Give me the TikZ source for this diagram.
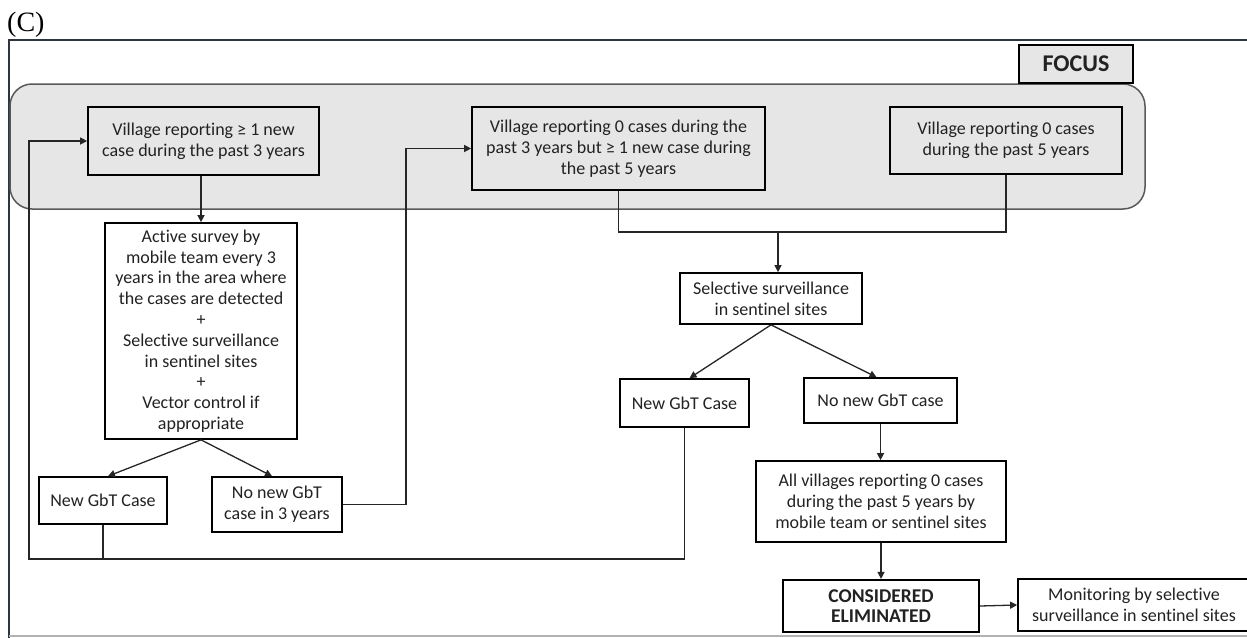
\documentclass[tikz,border=0pt]{standalone}
\usepackage{fontspec}
\setmainfont[Ligatures=NoCommon, RawFeature={-liga;-dlig}]{Carlito}
\newfontfamily\serifC{Liberation Serif}
\usetikzlibrary{arrows.meta}
\definecolor{panelgray}{HTML}{E6E6E6}
\definecolor{framenavy}{HTML}{2E3440}
\definecolor{txt}{HTML}{222222}
\tikzset{
  stepbox/.style={draw=black, line width=1.7pt, align=center, inner sep=0pt, text=txt,
    font=\fontsize{18}{20.8}\selectfont},
  conn/.style={draw=black!85, line width=1.3pt},
  arr/.style={conn, -{Triangle[length=7pt,width=7pt]}},
}
\begin{document}
\begin{tikzpicture}[x=1pt,y=-1pt]
\useasboundingbox (0,0) rectangle (1247,637);
\clip (0,0) rectangle (1247,637);
% title
\node[anchor=base west, inner sep=0pt, font=\serifC\fontsize{28}{30}\selectfont] (title) at (7,31) {(C)};
% outer frame
\draw[framenavy, line width=2pt] (1260,40) -- (9,40) -- (9,640);
\draw[black!30, line width=1.5pt] (9,636) -- (1260,636);
% focus panel
\draw[draw=black!65, line width=1.5pt, fill=panelgray, rounded corners=22pt] (10,84) rectangle (1145,209);
\node[stepbox, fill=panelgray, minimum width=114pt, minimum height=38pt, font=\bfseries\fontsize{24}{26}\selectfont] (focus) at (1076,64) {FOCUS};
% top row
\node[stepbox, fill=panelgray, minimum width=231pt, minimum height=68pt] (box1) at (203.5,141) {Village reporting ≥ 1 new\\case during the past 3 years};
\node[stepbox, fill=panelgray, minimum width=293pt, minimum height=83pt] (box2) at (618.5,148.5) {Village reporting 0 cases during the\\past 3 years but ≥ 1 new case during\\the past 5 years};
\node[stepbox, fill=panelgray, minimum width=232pt, minimum height=67pt] (box3) at (1006,140.5) {Village reporting 0 cases\\during the past 5 years};
% left branch
\node[stepbox, fill=white, minimum width=192pt, minimum height=216pt] (active) at (201,331) {Active survey by\\mobile team every 3\\years in the area where\\the cases are detected\\+\\Selective surveillance\\in sentinel sites\\+\\Vector control if\\appropriate};
\node[stepbox, fill=white, minimum width=128pt, minimum height=47pt] (ngL) at (103,500.5) {New GbT Case};
\node[stepbox, fill=white, minimum width=130pt, minimum height=55pt] (nnL) at (277,504.5) {No new GbT\\case in 3 years};
% right branch
\node[stepbox, fill=white, minimum width=182pt, minimum height=51pt] (sel) at (771,298.5) {Selective surveillance\\in sentinel sites};
\node[stepbox, fill=white, minimum width=129pt, minimum height=48pt] (ngR) at (684.5,403) {New GbT Case};
\node[stepbox, fill=white, minimum width=153pt, minimum height=45pt] (nnR) at (880.5,400.5) {No new GbT case};
\node[stepbox, fill=white, minimum width=250pt, minimum height=81pt] (allv) at (881,501.5) {All villages reporting 0 cases\\during the past 5 years by\\mobile team or sentinel sites};
\node[stepbox, fill=white, line width=2.2pt, minimum width=196pt, minimum height=52pt, font=\bfseries\fontsize{19.5}{20.8}\selectfont] (cons) at (881,606) {CONSIDERED\\ELIMINATED};
\node[stepbox, fill=white, minimum width=232pt, minimum height=52pt] (mon) at (1134,605) {Monitoring by selective\\surveillance in sentinel sites};
% helper coordinates
\coordinate (loopL) at (29,559);
\coordinate (loopR) at (406,504.5);
\coordinate (joinL) at (618.5,232);
\coordinate (joinR) at (1006,232);
\coordinate (joinM) at (778,232);
% connectors
\draw[arr] (box1.south -| active.north) -- (active.north);
\draw[arr] (active.south) -- ([xshift=5pt]ngL.north);
\draw[arr] (active.south) -- ([xshift=-5pt]nnL.north);
\draw[conn] (ngL.south) -- (ngL.south |- loopL);
\draw[arr] (ngR.south) |- (loopL) |- (box1.west);
\draw[arr] (nnL.east) -- (loopR) |- (box2.west);
\draw[conn] (box2.south) -- (joinL) -- (joinR) -- (box3.south);
\draw[arr] (joinM) -- (joinM |- sel.north);
\draw[arr] (sel.south) -- ([xshift=5pt]ngR.north);
\draw[arr] (sel.south) -- ([xshift=-4pt]nnR.north);
\draw[arr] (nnR.south) -- (nnR.south |- allv.north);
\draw[arr] (allv.south) -- (cons.north);
\draw[arr] (cons.east) -- (mon.west);
\end{tikzpicture}
\end{document}
